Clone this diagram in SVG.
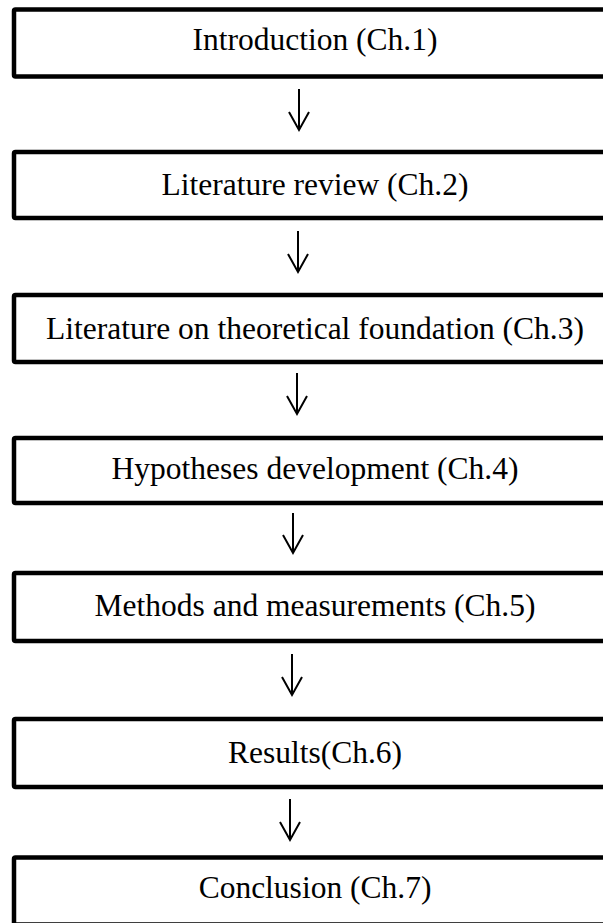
<svg xmlns="http://www.w3.org/2000/svg" width="603" height="923" viewBox="0 0 603 923">
<style>
.box{fill:#fff;stroke:#000;stroke-width:4.5;stroke-linejoin:round}
.lbl{font-family:"Liberation Serif","Times New Roman",serif;font-size:31.5px;fill:#000;text-anchor:middle}
.arr{fill:none;stroke:#000;stroke-width:2;stroke-linecap:butt;stroke-linejoin:miter}
</style>
<rect width="603" height="923" fill="#fff"/>
<g id="n1"><rect class="box" x="14" y="9.5" width="602" height="67" rx="1.5"/><text class="lbl" x="315" y="50">Introduction (Ch.1)</text></g>
<g id="n2"><rect class="box" x="14" y="152" width="602" height="66" rx="1.5"/><text class="lbl" x="315" y="195">Literature review (Ch.2)</text></g>
<g id="n3"><rect class="box" x="14" y="295" width="602" height="67" rx="1.5"/><text class="lbl" x="315" y="339">Literature on theoretical foundation (Ch.3)</text></g>
<g id="n4"><rect class="box" x="14" y="438" width="602" height="65" rx="1.5"/><text class="lbl" x="315" y="479">Hypotheses development (Ch.4)</text></g>
<g id="n5"><rect class="box" x="14" y="573" width="602" height="68" rx="1.5"/><text class="lbl" x="315" y="616">Methods and measurements (Ch.5)</text></g>
<g id="n6"><rect class="box" x="14" y="719" width="602" height="68" rx="1.5"/><text class="lbl" x="315" y="763">Results(Ch.6)</text></g>
<g id="n7"><rect class="box" x="14" y="857.5" width="602" height="67" rx="1.5"/><text class="lbl" x="315" y="898">Conclusion (Ch.7)</text></g>
<g id="connectors">
<path class="arr" d="M299 89V130M289 112L299 130L309 112"/>
<path class="arr" d="M298 231V272M288 254L298 272L308 254"/>
<path class="arr" d="M297 373V414M287 396L297 414L307 396"/>
<path class="arr" d="M293 513V553M283 535L293 553L303 535"/>
<path class="arr" d="M292 654V695M282 677L292 695L302 677"/>
<path class="arr" d="M290 799V840M280 822L290 840L300 822"/>
</g>
</svg>
